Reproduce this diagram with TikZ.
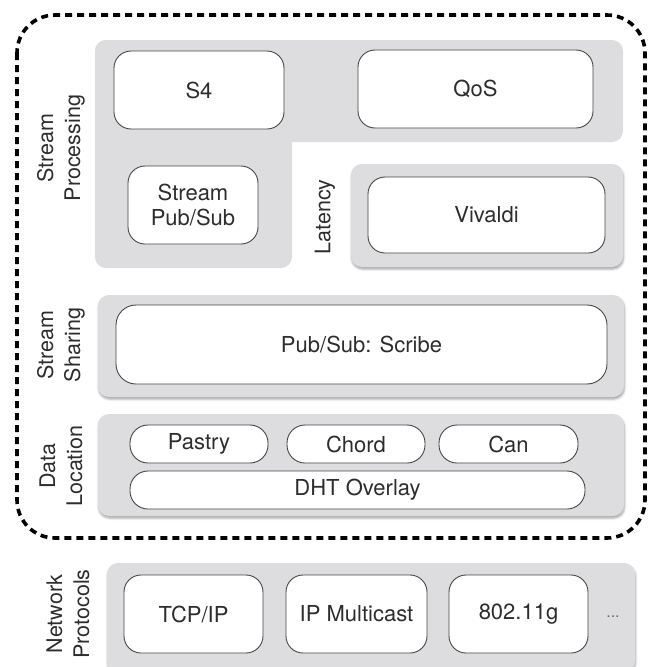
\documentclass[tikz,border=0pt]{standalone}
\usepackage{fontspec}
\setmainfont{TeX Gyre Heros}
\usetikzlibrary{shadows.blur}
\definecolor{panelgray}{RGB}{221,221,223}
\definecolor{boxline}{RGB}{70,70,70}
\definecolor{inktext}{RGB}{45,45,45}
\tikzset{
  panel/.style={fill=panelgray, rounded corners=11pt},
  shadowpanel/.style={panel, blur shadow={shadow xshift=0.6pt, shadow yshift=-2.2pt,
      shadow blur radius=2.2pt, shadow opacity=35}},
  whitebox/.style={draw=boxline, fill=white, line width=0.9pt, rounded corners=17pt,
      inner sep=0pt, text=inktext, align=center,
      font=\fontsize{22}{25}\selectfont},
  pill/.style={whitebox, rounded corners=18pt},
  layerlabel/.style={rotate=90, align=center, text=inktext, inner sep=0pt,
      font=\fontsize{21.5}{27}\selectfont},
  outerframe/.style={draw=black, line width=3.6pt, dash pattern=on 7pt off 5pt,
      rounded corners=38pt}
}
\begin{document}
\begin{tikzpicture}[x=1pt,y=-1pt]
\useasboundingbox (0,0) rectangle (649,667);

% dashed frame around the upper layers
\draw[outerframe] (17,15) rectangle (645,538);

% Stream Processing panel (L shape)
\fill[panel] (95,40) rectangle (623,142);
\fill[panel] (95,40) rectangle (292,268);
% Latency panel
\fill[shadowpanel] (351,164) rectangle (623,267);
% Stream Sharing panel
\fill[shadowpanel] (98,295) rectangle (624,397);
% Data Location panel
\fill[shadowpanel] (98,414) rectangle (624,516);
% Network Protocols panel
\fill[shadowpanel] (107,563) rectangle (635,672);

% Stream Processing
\node[whitebox, minimum width=170pt, minimum height=78pt] (s4) at (199,90) {S4};
\node[whitebox, minimum width=235pt, minimum height=78pt] (qos) at (475.5,89) {QoS};
\node[whitebox, minimum width=130pt, minimum height=78pt] (spubsub) at (193,205) {Stream\\Pub/Sub};
\node[whitebox, minimum width=237pt, minimum height=76pt] (vivaldi) at (486.5,215) {Vivaldi};

% Stream Sharing
\node[whitebox, minimum width=491pt, minimum height=79pt, rounded corners=20pt] (scribe) at (361.5,344.5) {Pub/Sub: Scribe};

% Data Location
\node[pill, minimum width=138pt, minimum height=38pt] (pastry) at (199,444) {Pastry};
\node[pill, minimum width=138pt, minimum height=38pt] (chord) at (356,444) {Chord};
\node[pill, minimum width=139pt, minimum height=38pt] (can) at (508.5,444) {Can};
\node[pill, minimum width=455pt, minimum height=38pt] (dht) at (357.5,490) {DHT Overlay};

% Network Protocols
\node[whitebox, minimum width=139pt, minimum height=78pt] (tcp) at (193.5,614) {TCP/IP};
\node[whitebox, minimum width=141pt, minimum height=78pt] (mcast) at (356.5,614) {IP Multicast};
\node[whitebox, minimum width=139pt, minimum height=78pt] (wifi) at (518.5,614) {802.11g};
\node[text=inktext!70, font=\fontsize{16}{18}\selectfont, inner sep=0pt] (more) at (613,617) {...};

% layer labels
\node[layerlabel] (lproc) at (61,148) {Stream\\Processing};
\node[layerlabel] (llat) at (325,217) {Latency};
\node[layerlabel] (lshare) at (61,345) {Stream\\Sharing};
\node[layerlabel] (lloc) at (61,466) {Data\\Location};
\node[layerlabel] (lnet) at (68,614) {Network\\Protocols};
\end{tikzpicture}
\end{document}
